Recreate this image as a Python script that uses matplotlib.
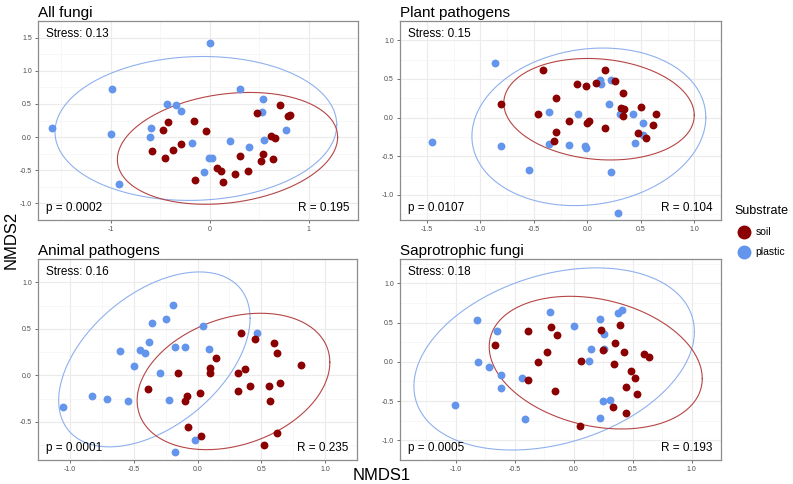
import numpy as np
import matplotlib
matplotlib.use('Agg')
import matplotlib.pyplot as plt
from matplotlib.lines import Line2D

plt.rcParams['font.family'] = ['Liberation Sans', 'DejaVu Sans']

titles = ["All fungi", "Plant pathogens", "Animal pathogens", "Saprotrophic fungi"]
stress = ["Stress: 0.13", "Stress: 0.15", "Stress: 0.16", "Stress: 0.18"]
pvals = ["p = 0.0002", "p = 0.0107", "p = 0.0001", "p = 0.0005"]
rvals = ["R = 0.195", "R = 0.104", "R = 0.235", "R = 0.193"]

# NMDS scores, plastic (blue) and soil (red)
plastic_x1 = [0.00, -0.99, 0.31, 0.54, -0.43, -0.34, -0.29, 0.53, -1.60, -0.59, -1.00, -0.60, 0.77, -0.18, 0.21, 0.40, 0.55, -0.01, 0.02, -0.06, -0.92]
plastic_y1 = [1.415, 0.73, 0.72, 0.57, 0.50, 0.49, 0.39, 0.38, 0.14, 0.14, 0.05, 0.00, 0.11, -0.09, -0.065, -0.15, -0.05, -0.32, -0.31, -0.52, -0.70]
soil_x1 = [0.71, 0.48, 0.79, 0.81, -0.42, -0.16, -0.47, -0.04, -0.29, -0.58, -0.37, -0.45, 0.62, 0.66, 0.31, 0.54, 0.52, 0.64, 0.07, 0.11, 0.39, 0.26, -0.15, 0.13]
soil_y1 = [0.48, 0.36, 0.32, 0.34, 0.22, 0.25, 0.10, 0.09, -0.10, -0.21, -0.20, -0.32, 0.02, -0.02, -0.28, -0.26, -0.36, -0.33, -0.47, -0.51, -0.51, -0.56, -0.65, -0.67]

plastic_x2 = [-0.86, -1.45, -0.81, -0.54, -0.36, -0.36, -0.09, -0.17, -0.02, -0.01, 0.12, 0.13, 0.22, 0.20, 0.31, 0.43, 0.52, 0.52, 0.45, 0.22, 0.29]
plastic_y2 = [0.71, -0.31, -0.37, -0.68, 0.07, -0.34, 0.05, -0.35, -0.37, -0.40, 0.48, 0.44, 0.48, 0.17, 0.05, 0.04, -0.07, -0.22, -0.33, -0.70, -1.23]
soil_x2 = [-0.41, -0.81, -0.29, -0.46, -0.10, -0.01, 0.08, 0.17, 0.26, 0.33, 0.32, 0.34, 0.33, -0.17, 0.00, 0.02, -0.29, -0.31, 0.17, 0.50, 0.47, 0.55, 0.61, 0.64]
soil_y2 = [0.61, 0.17, 0.25, 0.05, 0.44, 0.41, 0.45, 0.62, 0.47, 0.32, 0.13, 0.11, 0.02, -0.05, -0.07, -0.05, -0.19, -0.30, -0.13, 0.14, -0.20, -0.26, -0.10, 0.04]

plastic_x3 = [-1.057, -0.83, -0.71, -0.545, -0.61, -0.50, -0.45, -0.41, -0.38, -0.36, -0.29, -0.25, -0.19, -0.18, -0.10, -0.22, 0.04, 0.09, 0.47, -0.02, -0.18]
plastic_y3 = [-0.34, -0.22, -0.25, -0.28, 0.26, 0.10, 0.27, 0.24, 0.36, 0.56, 0.02, 0.60, 0.76, 0.30, 0.30, -0.26, 0.53, 0.28, 0.46, -0.69, -0.82]
soil_x3 = [-0.39, -0.15, -0.08, -0.095, -0.075, 0.02, 0.03, 0.095, 0.10, 0.145, 0.34, 0.45, 0.37, 0.32, 0.32, 0.41, 0.60, 0.62, 0.645, 0.56, 0.57, 0.62, 0.52, 0.81]
soil_y3 = [-0.15, 0.03, -0.22, -0.28, -0.555, -0.19, -0.65, 0.08, 0.02, 0.19, 0.45, 0.39, 0.07, 0.02, -0.17, -0.12, 0.35, 0.24, -0.08, -0.115, -0.28, -0.62, -0.75, 0.115]

plastic_x4 = [-1.01, -0.82, -0.81, -0.72, -0.65, -0.615, -0.615, -0.44, -0.41, -0.20, 0.00, 0.13, 0.15, 0.22, 0.26, 0.26, 0.25, 0.31, 0.22, 0.38, 0.41]
plastic_y4 = [-0.545, 0.53, 0.00, -0.06, 0.39, -0.165, -0.335, -0.21, -0.73, 0.63, 0.46, 0.01, 0.16, 0.55, 0.35, 0.165, -0.50, -0.49, -0.71, 0.62, 0.66]
soil_x4 = [-0.665, -0.385, -0.39, -0.30, -0.23, -0.19, -0.145, -0.16, 0.066, 0.055, 0.235, 0.245, 0.35, 0.39, 0.34, 0.43, 0.335, 0.44, 0.49, 0.52, 0.54, 0.44, 0.60, 0.64]
soil_y4 = [0.21, 0.39, -0.23, 0.00, 0.13, 0.45, 0.34, -0.375, 0.017, -0.82, 0.41, 0.15, 0.235, 0.475, -0.03, 0.124, -0.58, -0.32, -0.12, -0.21, -0.405, -0.65, 0.10, 0.058]

plastic_x = [plastic_x1, plastic_x2, plastic_x3, plastic_x4]
plastic_y = [plastic_y1, plastic_y2, plastic_y3, plastic_y4]
soil_x = [soil_x1, soil_x2, soil_x3, soil_x4]
soil_y = [soil_y1, soil_y2, soil_y3, soil_y4]

# ellipses: centre x, centre y, half extent x, half extent y, correlation
plastic_ell = [(-0.14, 0.13, 1.425, 1.085, 0.05), (0.015, -0.12, 1.093, 1.02, 0.12),
               (-0.338, 0.171, 0.75, 0.94, 0.47), (-0.166, 0.037, 1.19, 1.16, 0.30)]
soil_ell = [(0.18, -0.17, 1.114, 0.843, 0.20), (0.11, 0.108, 0.89, 0.657, -0.12),
            (0.282, -0.066, 0.755, 0.733, 0.28), (0.187, -0.01, 0.904, 0.845, -0.24)]

xticks = [[-1, 0, 1], [-1.5, -1.0, -0.5, 0.0, 0.5, 1.0], [-1.0, -0.5, 0.0, 0.5, 1.0], [-1.0, -0.5, 0.0, 0.5, 1.0]]
xticklabels = [["-1", "0", "1"], ["-1.5", "-1.0", "-0.5", "0.0", "0.5", "1.0"],
               ["-1.0", "-0.5", "0.0", "0.5", "1.0"], ["-1.0", "-0.5", "0.0", "0.5", "1.0"]]
yticks = [[-1.0, -0.5, 0.0, 0.5, 1.0, 1.5], [-1.0, -0.5, 0.0, 0.5, 1.0], [-0.5, 0.0, 0.5, 1.0], [-1.0, -0.5, 0.0, 0.5, 1.0]]
xlims = [(-1.737, 1.42), (-1.58, 1.21), (-1.184, 1.136), (-1.474, 1.20)]
ylims = [(-1.125, 1.545), (-1.326, 1.015), (-0.91, 1.20), (-1.19, 1.31)]

blue = '#6495ED'
red = '#8B0000'

W, H = 793, 484
fig = plt.figure(figsize=(W/100, H/100), dpi=100)
boxes = [(38, 358, 21, 220), (400, 721, 21, 220), (38, 357, 259, 460), (400, 721, 259, 460)]  # pixel l, r, t, b


def ellipse(cx, cy, ex, ey, rho):
	t = np.linspace(0, 2*np.pi, 300)
	return cx + ex*np.cos(t), cy + ey*(rho*np.cos(t) + np.sqrt(1-rho**2)*np.sin(t))


for i in range(4):
	l, r, t, b = boxes[i]
	ax = fig.add_axes([l/W, 1-b/H, (r-l)/W, (b-t)/H])
	ax.set_xlim(xlims[i])
	ax.set_ylim(ylims[i])
	ax.set_xticks(xticks[i])
	ax.set_xticklabels(xticklabels[i])
	ax.set_yticks(yticks[i])
	ax.set_yticklabels(["%.1f" % v for v in yticks[i]])
	xt = np.array(xticks[i], dtype=float)
	yt = np.array(yticks[i], dtype=float)
	dx = xt[1]-xt[0]
	dy = yt[1]-yt[0]
	ax.set_xticks(np.arange(xt[0]-dx/2, xt[-1]+dx, dx), minor=True)
	ax.set_yticks(np.arange(yt[0]-dy/2, yt[-1]+dy, dy), minor=True)
	ax.grid(which='major', color='#EBEBEB', lw=0.8)
	ax.grid(which='minor', color='#F4F4F4', lw=0.5)
	ax.set_axisbelow(True)
	ax.tick_params(which='major', labelsize=5, colors='#4D4D4D', length=2.5, width=0.5, pad=2)
	ax.tick_params(which='minor', length=0)
	ax.tick_params(axis='both', which='major', color='#333333')
	for s in ax.spines.values():
		s.set_color('#8C8C8C')
		s.set_linewidth(0.9)

	ax.scatter(plastic_x[i], plastic_y[i], s=32, color=blue, linewidths=0, zorder=3)
	ax.scatter(soil_x[i], soil_y[i], s=32, color=red, linewidths=0, zorder=3)
	ex, ey = ellipse(*plastic_ell[i])
	ax.plot(ex, ey, color='#8FB0EE', lw=0.8, zorder=2)
	ex, ey = ellipse(*soil_ell[i])
	ax.plot(ex, ey, color='#B54545', lw=0.8, zorder=2)

	ax.set_title(titles[i], loc='left', fontsize=11, pad=3)
	ax.annotate(stress[i], (0, 1), xycoords='axes fraction', xytext=(6, -5), textcoords='offset points', ha='left', va='top', fontsize=8.5)
	ax.annotate(pvals[i], (0, 0), xycoords='axes fraction', xytext=(6, 4), textcoords='offset points', ha='left', va='bottom', fontsize=8.5)
	ax.annotate(rvals[i], (1, 0), xycoords='axes fraction', xytext=(-6, 4), textcoords='offset points', ha='right', va='bottom', fontsize=8.5)

fig.text(11/W, 1-240/H, "NMDS2", rotation=90, ha='center', va='center', fontsize=12)
fig.text(382/W, 1-475/H, "NMDS1", ha='center', va='center', fontsize=12)

handles = [Line2D([], [], color=red, marker='o', markersize=9, lw=0.8),
           Line2D([], [], color=blue, marker='o', markersize=9, lw=0.8)]
fig.legend(handles, ['soil', 'plastic'], title='Substrate', loc='upper left', bbox_to_anchor=(725/W, 1-196/H),
           frameon=False, fontsize=7.5, title_fontsize=9, handlelength=1.2, handletextpad=0.5, labelspacing=0.95)

fig.savefig('out.png', dpi=100)
